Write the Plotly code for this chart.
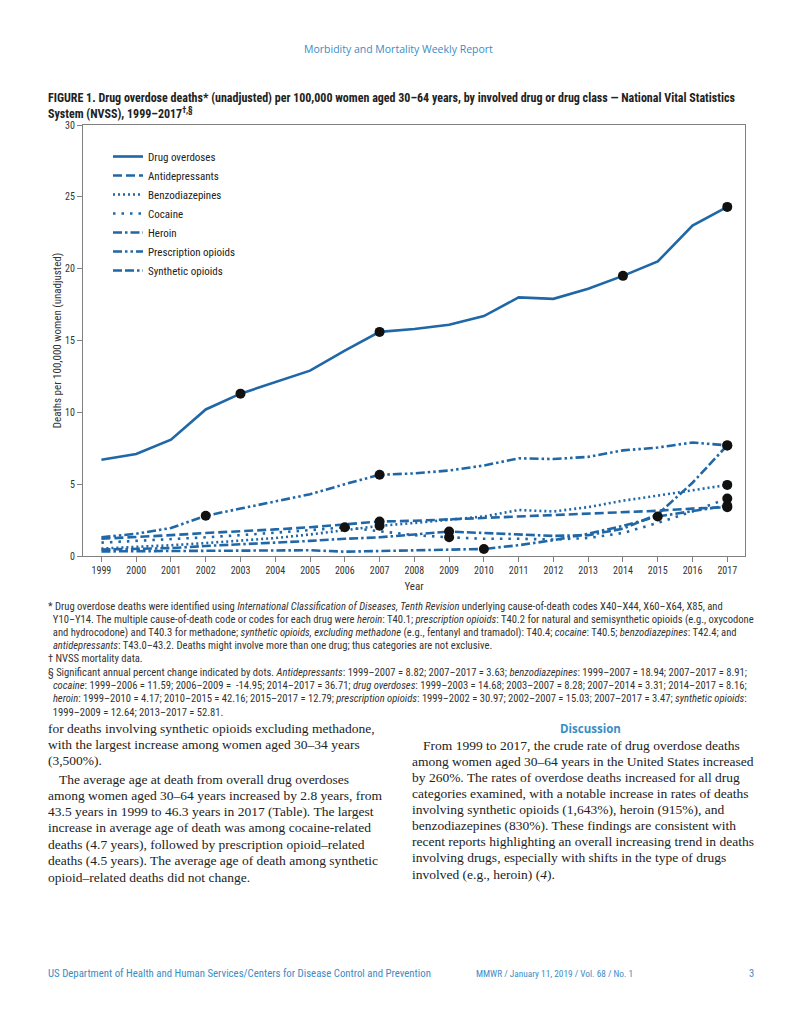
import plotly.graph_objects as go

# ---------------- data ----------------
years = list(range(1999, 2018))

drug_overdoses = [6.7, 7.1, 8.1, 10.2, 11.3, 12.1, 12.9, 14.3, 15.6, 15.8, 16.1, 16.7, 18.0, 17.9, 18.6, 19.5, 20.5, 23.0, 24.3]
antidepressants = [1.2, 1.3, 1.45, 1.6, 1.7, 1.85, 2.0, 2.2, 2.4, 2.45, 2.55, 2.65, 2.8, 2.85, 2.95, 3.05, 3.15, 3.3, 3.4]
benzodiazepines = [0.52, 0.62, 0.75, 0.9, 1.05, 1.25, 1.5, 1.8, 2.1, 2.3, 2.5, 2.75, 3.2, 3.1, 3.4, 3.85, 4.2, 4.6, 4.95]
cocaine = [0.93, 1.05, 1.15, 1.3, 1.45, 1.6, 1.8, 2.0, 1.7, 1.45, 1.3, 1.2, 1.2, 1.15, 1.25, 1.6, 2.3, 3.1, 4.0]
heroin = [0.32, 0.33, 0.35, 0.36, 0.38, 0.39, 0.40, 0.30, 0.35, 0.42, 0.45, 0.49, 0.75, 1.1, 1.55, 2.1, 2.75, 3.1, 3.5]
prescription_opioids = [1.3, 1.55, 1.95, 2.8, 3.3, 3.8, 4.3, 5.0, 5.65, 5.75, 5.95, 6.3, 6.8, 6.75, 6.9, 7.35, 7.55, 7.9, 7.7]
synthetic_opioids = [0.45, 0.5, 0.55, 0.7, 0.8, 0.95, 1.05, 1.2, 1.3, 1.5, 1.7, 1.6, 1.5, 1.4, 1.45, 1.9, 2.9, 5.1, 7.7]

series_names = ["Drug overdoses", "Antidepressants", "Benzodiazepines", "Cocaine",
                "Heroin", "Prescription opioids", "Synthetic opioids"]
series_values = [drug_overdoses, antidepressants, benzodiazepines, cocaine,
                 heroin, prescription_opioids, synthetic_opioids]
# years marked with a dot (significant annual percent change)
dot_years = [[2003, 2007, 2014, 2017], [2007, 2017], [2007, 2017], [2006, 2009, 2017],
             [2010, 2015, 2017], [2002, 2007, 2017], [2009, 2017]]

y_ticks = [0, 5, 10, 15, 20, 25, 30]

# ---------------- styles ----------------
BLUE = "#1f67a6"
dashes = ["solid", "9px,4px", "2px,3px", "2.5px,6px", "9px,3px,2.5px,3px",
          "9px,3px,2.5px,3px,2.5px,3px", "9px,3px,9px,3px,2.5px,3px"]

NARROW = "Roboto Condensed, Liberation Sans Narrow, Arial Narrow, Liberation Sans, sans-serif"
SANS = "Open Sans, Liberation Sans, sans-serif"
SERIF = "Liberation Serif, DejaVu Serif, serif"

OFF = 8                      # default page (body) margin of the html page
W, H = 797 - 2 * OFF, 1024 - 2 * OFF
X0, X1, Y0, Y1 = 83, 745, 556, 125  # plot area in page pixels

fig = go.Figure()
for name, vals, dsh in zip(series_names, series_values, dashes):
    fig.add_trace(go.Scatter(x=years, y=vals, mode="lines", name=name,
                             line=dict(color=BLUE, width=2.6, dash=dsh)))
for vals, dy in zip(series_values, dot_years):
    fig.add_trace(go.Scatter(x=dy, y=[vals[years.index(yr)] for yr in dy], mode="markers",
                             showlegend=False, hoverinfo="skip",
                             marker=dict(color="#111111", size=10)))


def px(x):
    return (x - X0) / (X1 - X0)


def py(y):
    return (Y0 - y) / (Y0 - Y1)


ann = []


def text(x, y, t, size, color="#222", family=NARROW, anchor="left"):
    ann.append(dict(x=px(x), y=py(y), xref="paper", yref="paper", text=t, showarrow=False,
                    xanchor=anchor, yanchor="middle", align=anchor, borderpad=0,
                    font=dict(size=size, color=color, family=family)))


HEADBLUE = "#3a8cc6"
text(398, 49, "Morbidity and Mortality Weekly Report", 10.5, HEADBLUE, SANS, anchor="center")
text(47, 98, "<b>FIGURE 1. Drug overdose deaths* (unadjusted) per 100,000 women aged 30–64 years, by involved drug or drug class — National Vital Statistics</b>", 12, "#222")
text(47, 113, "<b>System (NVSS), 1999–2017<sup>†,§</sup></b>", 12, "#222")

foot = [
    (606, "* Drug overdose deaths were identified using <i>International Classification of Diseases, Tenth Revision</i> underlying cause-of-death codes X40–X44, X60–X64, X85, and"),
    (619, "  Y10–Y14. The multiple cause-of-death code or codes for each drug were <i>heroin</i>: T40.1; <i>prescription opioids</i>: T40.2 for natural and semisynthetic opioids (e.g., oxycodone"),
    (632, "  and hydrocodone) and T40.3 for methadone; <i>synthetic opioids, excluding methadone</i> (e.g., fentanyl and tramadol): T40.4; <i>cocaine</i>: T40.5; <i>benzodiazepines</i>: T42.4; and"),
    (645, "  <i>antidepressants</i>: T43.0–43.2. Deaths might involve more than one drug; thus categories are not exclusive."),
    (658, "† NVSS mortality data."),
    (672, "§ Significant annual percent change indicated by dots. <i>Antidepressants</i>: 1999–2007 = 8.82; 2007–2017 = 3.63; <i>benzodiazepines</i>: 1999–2007 = 18.94; 2007–2017 = 8.91;"),
    (685, "  <i>cocaine</i>: 1999–2006 = 11.59; 2006–2009 =  -14.95; 2014–2017 = 36.71; <i>drug overdoses</i>: 1999–2003 = 14.68; 2003–2007 = 8.28; 2007–2014 = 3.31; 2014–2017 = 8.16;"),
    (698, "  <i>heroin</i>: 1999–2010 = 4.17; 2010–2015 = 42.16; 2015–2017 = 12.79; <i>prescription opioids</i>: 1999–2002 = 30.97; 2002–2007 = 15.03; 2007–2017 = 3.47; <i>synthetic opioids</i>:"),
    (712, "  1999–2009 = 12.64; 2013–2017 = 52.81."),
]
for yy, t in foot:
    text(47, yy, t, 10.6, "#333")

left_col = [
    (728, 47, "for deaths involving synthetic opioids excluding methadone,"),
    (744, 47, "with the largest increase among women aged 30–34 years"),
    (760, 47, "(3,500%)."),
    (779, 58, "The average age at death from overall drug overdoses"),
    (795, 47, "among women aged 30–64 years increased by 2.8 years, from"),
    (811, 47, "43.5 years in 1999 to 46.3 years in 2017 (Table). The largest"),
    (827, 47, "increase in average age of death was among cocaine-related"),
    (844, 47, "deaths (4.7 years), followed by prescription opioid–related"),
    (860, 47, "deaths (4.5 years). The average age of death among synthetic"),
    (877, 47, "opioid–related deaths did not change."),
]
for yy, xx, t in left_col:
    text(xx, yy, t, 13.5, "#222", SERIF)

text(590, 728, "<b>Discussion</b>", 11.5, HEADBLUE, SANS, anchor="center")
right_col = [
    (745, 422, "From 1999 to 2017, the crude rate of drug overdose deaths"),
    (761, 411, "among women aged 30–64 years in the United States increased"),
    (777, 411, "by 260%. The rates of overdose deaths increased for all drug"),
    (793, 411, "categories examined, with a notable increase in rates of deaths"),
    (809, 411, "involving synthetic opioids (1,643%), heroin (915%), and"),
    (825, 411, "benzodiazepines (830%). These findings are consistent with"),
    (841, 411, "recent reports highlighting an overall increasing trend in deaths"),
    (857, 411, "involving drugs, especially with shifts in the type of drugs"),
    (874, 411, "involved (e.g., heroin) (<i>4</i>)."),
]
for yy, xx, t in right_col:
    text(xx, yy, t, 13.5, "#222", SERIF)

text(47, 973, "US Department of Health and Human Services/Centers for Disease Control and Prevention", 10.8, HEADBLUE)
text(475, 973, "MMWR / January 11, 2019 / Vol. 68 / No. 1", 9.3, HEADBLUE)
text(748, 973, "3", 10.5, HEADBLUE)

fig.update_layout(
    width=W, height=H,
    margin=dict(l=X0 - OFF, r=(797 - OFF) - X1, t=Y1 - OFF, b=(1024 - OFF) - Y0, pad=0, autoexpand=False),
    paper_bgcolor="white", plot_bgcolor="white",
    showlegend=True,
    legend=dict(x=px(108), y=py(142), xanchor="left", yanchor="top",
                bgcolor="rgba(0,0,0,0)", font=dict(size=11, family=NARROW, color="#222"),
                tracegroupgap=0),
    annotations=ann,
    xaxis=dict(range=[1998.47, 2017.51], tickmode="array", tickvals=years,
               ticktext=[str(y) for y in years], showgrid=False, zeroline=False,
               showline=True, linecolor="#808080", linewidth=1.2, mirror=True,
               ticks="outside", ticklen=5, tickcolor="#808080", automargin=False,
               tickfont=dict(size=10, family=NARROW, color="#333"),
               title=dict(text="Year", font=dict(size=11, family=NARROW, color="#333"), standoff=7)),
    yaxis=dict(range=[0, 30], tickvals=y_ticks, showgrid=False, zeroline=False,
               showline=True, linecolor="#808080", linewidth=1.2, mirror=True,
               ticks="outside", ticklen=5, tickcolor="#808080", automargin=False,
               tickfont=dict(size=10, family=NARROW, color="#333"),
               title=dict(text="Deaths per 100,000 women (unadjusted)",
                          font=dict(size=11, family=NARROW, color="#333"), standoff=1)),
)

fig.write_html("out.html")
